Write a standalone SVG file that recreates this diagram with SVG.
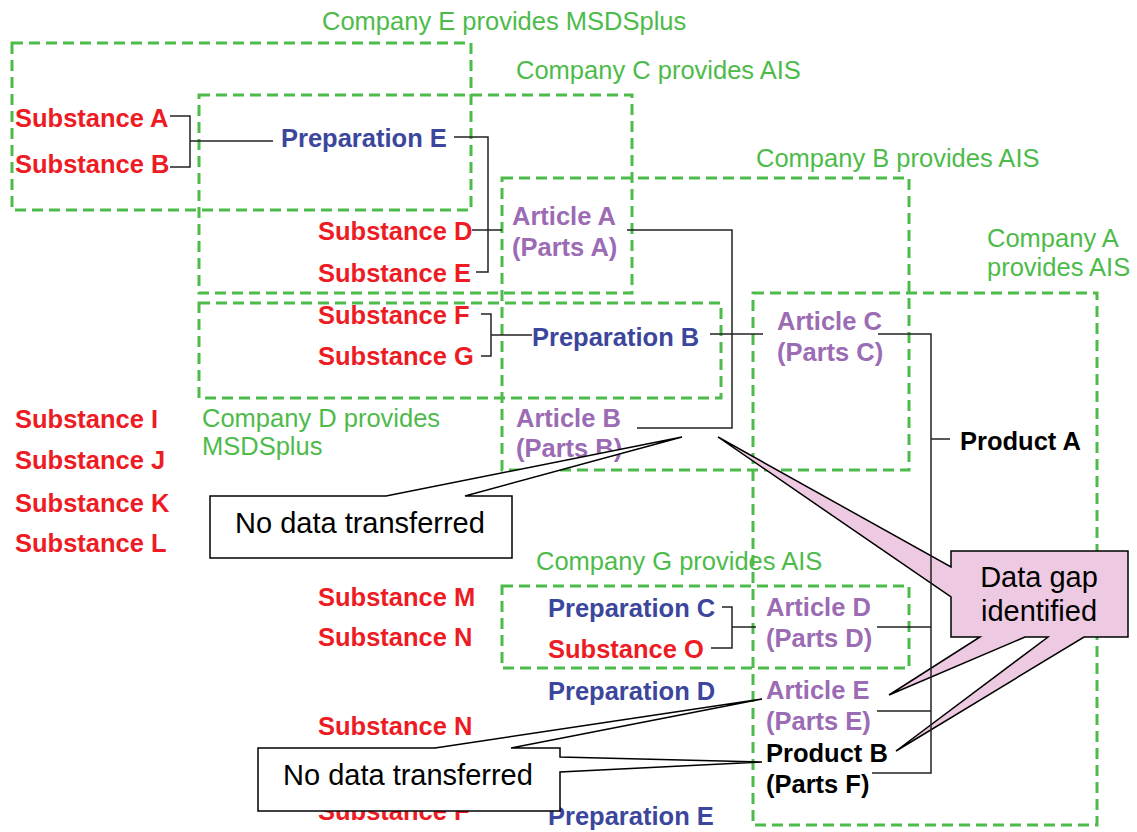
<svg xmlns="http://www.w3.org/2000/svg" width="1137" height="832" viewBox="0 0 1137 832">
<style>
text{font-family:"Liberation Sans",Arial,sans-serif;}
.co{fill:none;stroke:#4dbb4a;stroke-width:3;stroke-dasharray:11 6;}
.cl{fill:#4dbb4a;font-size:25.5px;}
.sub{fill:#ed1c24;font-size:25.5px;font-weight:bold;}
.prep{fill:#3b469c;font-size:25.5px;font-weight:bold;}
.art{fill:#9b6bb4;font-size:25.5px;font-weight:bold;}
.prod{fill:#000;font-size:25.5px;font-weight:bold;}
.cn{fill:none;stroke:#222;stroke-width:1.5;}
.wc{fill:#fff;stroke:#000;stroke-width:1.5;stroke-linejoin:miter;}
.pc{fill:#edcae1;stroke:#000;stroke-width:1.5;}
.ct{fill:#000;font-size:29px;}
</style>
<rect width="1137" height="832" fill="#fff"/>
<g id="companies">
<g id="companyE"><rect class="co" x="12" y="43" width="459" height="167"/><text class="cl" x="322" y="30">Company E provides MSDSplus</text></g>
<g id="companyC"><rect class="co" x="199" y="95" width="433" height="198"/><text class="cl" x="516" y="79">Company C provides AIS</text></g>
<g id="companyB"><rect class="co" x="502" y="178" width="407" height="292"/><text class="cl" x="756" y="167">Company B provides AIS</text></g>
<g id="companyD"><rect class="co" x="199" y="303" width="522" height="95"/><text class="cl" x="202" y="427">Company D provides</text><text class="cl" x="202" y="455">MSDSplus</text></g>
<g id="companyA"><rect class="co" x="753" y="293" width="344" height="532"/><text class="cl" x="987" y="247">Company A</text><text class="cl" x="987" y="276">provides AIS</text></g>
<g id="companyG"><rect class="co" x="502" y="586" width="407" height="82"/><text class="cl" x="536" y="570">Company G provides AIS</text></g>
</g>
<g id="subA"><text class="sub" x="15" y="127">Substance A</text></g>
<g id="subB"><text class="sub" x="15" y="173">Substance B</text></g>
<g id="prepE"><text class="prep" x="281" y="147">Preparation E</text></g>
<g id="subD"><text class="sub" x="318" y="240">Substance D</text></g>
<g id="subE"><text class="sub" x="318" y="282">Substance E</text></g>
<g id="artA"><text class="art" x="512" y="225">Article A</text><text class="art" x="512" y="256">(Parts A)</text></g>
<g id="subF"><text class="sub" x="318" y="324">Substance F</text></g>
<g id="subG"><text class="sub" x="318" y="365">Substance G</text></g>
<g id="prepB"><text class="prep" x="532" y="346">Preparation B</text></g>
<g id="artC"><text class="art" x="777" y="330">Article C</text><text class="art" x="777" y="361">(Parts C)</text></g>
<g id="artB"><text class="art" x="516" y="427">Article B</text><text class="art" x="516" y="457">(Parts B)</text></g>
<g id="prodA"><text class="prod" x="960" y="450">Product A</text></g>
<g id="subI"><text class="sub" x="15" y="428">Substance I</text></g>
<g id="subJ"><text class="sub" x="15" y="469">Substance J</text></g>
<g id="subK"><text class="sub" x="15" y="512">Substance K</text></g>
<g id="subL"><text class="sub" x="15" y="552">Substance L</text></g>
<g id="subM"><text class="sub" x="318" y="606">Substance M</text></g>
<g id="subN"><text class="sub" x="318" y="646">Substance N</text></g>
<g id="prepC"><text class="prep" x="548" y="617">Preparation C</text></g>
<g id="subO"><text class="sub" x="548" y="658">Substance O</text></g>
<g id="artD"><text class="art" x="766" y="616">Article D</text><text class="art" x="766" y="647">(Parts D)</text></g>
<g id="prepD"><text class="prep" x="548" y="700">Preparation D</text></g>
<g id="artE"><text class="art" x="766" y="699">Article E</text><text class="art" x="766" y="730">(Parts E)</text></g>
<g id="subN2"><text class="sub" x="318" y="735">Substance N</text></g>
<g id="prodB"><text class="prod" x="766" y="762">Product B</text><text class="prod" x="766" y="793">(Parts F)</text></g>
<g id="subF2"><text class="sub" x="318" y="820">Substance F</text></g>
<g id="prepE2"><text class="prep" x="548" y="825">Preparation E</text></g>
<g id="callout1"><path class="wc" d="M210,496 L386,496 L682,437 L465,496 L512,496 L512,558 L210,558 Z"/><text class="ct" x="235" y="533">No data transferred</text></g>
<g id="callout2"><path class="wc" d="M258,748 L435,748 L762,699 L511,748 L560,748 L560,757 L762,762 L560,772 L560,811 L258,811 Z"/><text class="ct" x="283" y="785">No data transferred</text></g>
<g id="callout3"><path class="pc" d="M951,551 L1128,551 L1128,637 L1084,637 L896,751 L1048,637 L1025,637 L889,695 L980,637 L951,637 L951,597 L718,437 L951,567 Z"/><text class="ct" x="1039" y="587" text-anchor="middle">Data gap</text><text class="ct" x="1039" y="621" text-anchor="middle">identified</text></g>
<g id="connectors">
<path class="cn" d="M170,116 H190 V167 H170 M190,141 H273"/>
<path class="cn" d="M454,137 H488 V272 H476 M472,230 H502"/>
<path class="cn" d="M627,230 H732 V428 H637"/>
<path class="cn" d="M481,314 H491 V356 H481 M491,335 H532"/>
<path class="cn" d="M710,334 H763"/>
<path class="cn" d="M878,334 H931 V773 H872 M931,439 H950 M877,627 H931 M877,711 H931"/>
<path class="cn" d="M722,607 H732 V648 H711 M732,627 H756"/>
</g>
</svg>
